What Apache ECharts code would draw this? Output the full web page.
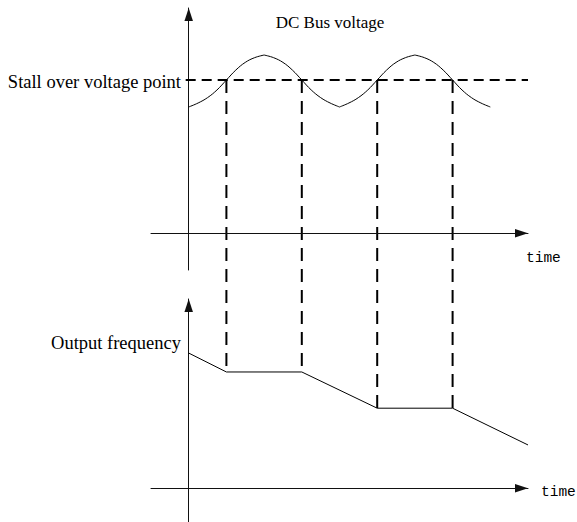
<!DOCTYPE html>
<html>
<head>
<meta charset="utf-8">
<script src="https://cdn.jsdelivr.net/npm/echarts@6/dist/echarts.min.js"></script>
<style>
  html, body { margin: 0; padding: 0; background: #fff; }
  #chart { width: 577px; height: 522px; }
</style>
</head>
<body>
<div id="chart"></div>
<script>
// DC bus voltage ripple, sampled from trough to peak and back; '-' breaks the
// curve so each rise/fall is smoothed on its own and the extrema stay pointed.
const voltageTime = [
  0, 0.25, 0.5, 0.75, 1, 1.25, 1.5, 1.75, 2, '-',
  2, 2.25, 2.5, 2.75, 3, 3.25, 3.5, 3.75, 4, '-',
  4, 4.25, 4.5, 4.75, 5, 5.25, 5.5, 5.75, 6, '-',
  6, 6.25, 6.5, 6.75, 7, 7.25, 7.5, 7.75, 8
];
const voltage = [
  82.4, 85, 88.5, 93.5, 100, 106.5, 111.5, 114.6, 116.3, '-',
  116.3, 114.6, 111.5, 106.5, 100, 93.5, 88.5, 85, 82.4, '-',
  82.4, 85, 88.5, 93.5, 100, 106.5, 111.5, 114.6, 116.3, '-',
  116.3, 114.6, 111.5, 106.5, 100, 93.5, 88.5, 85, 82.4
];

// Stall over-voltage threshold
const stallLevel = 100;
const stallSpan = [-0.08, 9];

// Output frequency: ramps down, holds while the bus is above the threshold
const freqTime = [0, 1, 3, 5, 7, 9];
const frequency = [50, 43, 43, 29.6, 29.6, 16];

// Moments the bus voltage crosses the threshold
const crossTimes = [1, 3, 5, 7];

// Texts
const titleText = 'DC Bus voltage';
const stallText = 'Stall over voltage point';
const freqText = 'Output frequency';
const timeText = 'time';

const zip = (xs, ys) => xs.map((x, i) => (x === '-' ? ['-', '-'] : [x, ys[i]]));

const chart = echarts.init(document.getElementById('chart'), null, { renderer: 'svg' });

const axisArrow = {
  show: true,
  onZero: true,
  symbol: ['none', 'triangle'],
  symbolSize: [8.5, 13],
  symbolOffset: [0, -6.5],
  lineStyle: { color: '#111', width: 1 }
};

function valueAxis(gridIndex, min, max) {
  return {
    type: 'value',
    gridIndex: gridIndex,
    min: min,
    max: max,
    axisLine: axisArrow,
    axisTick: { show: false },
    axisLabel: { show: false },
    splitLine: { show: false }
  };
}

const serif = 'Liberation Serif, Times New Roman, serif';
const mono = 'Liberation Mono, monospace';

chart.setOption({
  animation: false,
  backgroundColor: '#fff',
  grid: [
    { left: 151, right: 49, top: 8, bottom: 252 },
    { left: 151, right: 49, top: 299, bottom: 0 }
  ],
  xAxis: [valueAxis(0, -1, 9), valueAxis(1, -1, 9)],
  yAxis: [valueAxis(0, -24, 147), valueAxis(1, -12.5, 70)],
  series: [
    {
      type: 'line',
      xAxisIndex: 0, yAxisIndex: 0,
      data: zip(voltageTime, voltage),
      smooth: 0.4,
      showSymbol: false,
      connectNulls: false,
      lineStyle: { color: '#000', width: 1 },
      silent: true
    },
    {
      type: 'line',
      xAxisIndex: 0, yAxisIndex: 0,
      data: stallSpan.map(t => [t, stallLevel]),
      showSymbol: false,
      clip: false,
      lineStyle: { color: '#000', width: 2, type: [10, 6] },
      silent: true
    },
    {
      type: 'line',
      xAxisIndex: 1, yAxisIndex: 1,
      data: zip(freqTime, frequency),
      showSymbol: false,
      clip: false,
      lineStyle: { color: '#000', width: 1 },
      silent: true
    }
  ]
});

// Vertical guides linking each threshold crossing to the frequency plateau below
const freqAt = t => {
  for (let i = 1; i < freqTime.length; i++) {
    if (t <= freqTime[i]) {
      const a = freqTime[i - 1], b = freqTime[i];
      return frequency[i - 1] + (frequency[i] - frequency[i - 1]) * (t - a) / (b - a);
    }
  }
  return frequency[frequency.length - 1];
};

const guides = crossTimes.map(t => {
  const p1 = chart.convertToPixel({ gridIndex: 0 }, [t, stallLevel]);
  const p2 = chart.convertToPixel({ gridIndex: 1 }, [t, freqAt(t)]);
  return {
    type: 'line',
    shape: { x1: p1[0], y1: p1[1], x2: p2[0], y2: p2[1] },
    style: { stroke: '#000', lineWidth: 2, lineDash: [13, 8] },
    silent: true
  };
});

const stallY = chart.convertToPixel({ gridIndex: 0 }, [0, stallLevel])[1];
const freqY = chart.convertToPixel({ gridIndex: 1 }, [0, frequency[0]])[1];

const label = (text, x, y, align, family, size) => ({
  type: 'text',
  x: x, y: y,
  style: {
    text: text, fill: '#000', font: size + 'px ' + family,
    textAlign: align, textVerticalAlign: 'middle'
  },
  silent: true
});

chart.setOption({
  graphic: guides.concat([
    label(titleText, 330, 22, 'center', serif, 17),
    label(stallText, 181, stallY + 2, 'right', serif, 18.5),
    label(freqText, 181, freqY - 10, 'right', serif, 18.5),
    label(timeText, 526, 258, 'left', mono, 14.5),
    label(timeText, 541, 492, 'left', mono, 14.5)
  ])
});
</script>
</body>
</html>
